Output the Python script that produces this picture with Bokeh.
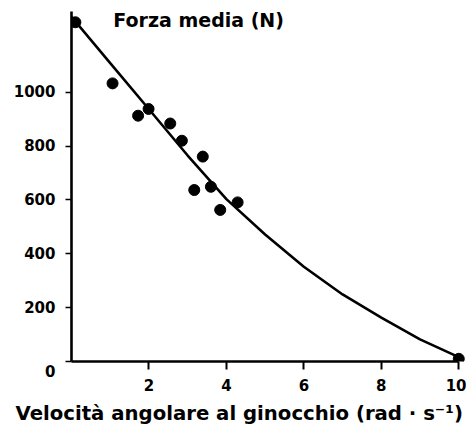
from bokeh.plotting import figure
from bokeh.models import Range1d, FixedTicker, Label, Title
from bokeh.embed import file_html
from bokeh.resources import INLINE

# measured points: angular velocity (rad/s) vs mean force (N)
vel = [0.1, 1.06, 1.72, 1.99, 2.55, 2.85, 3.39, 3.17, 3.60, 3.84, 4.29, 10.0]
force = [1260, 1033, 913, 938, 884, 820, 761, 637, 649, 563, 591, 10]

# fitted curve
curve_v = [0, 1, 2, 3, 4, 5, 6, 7, 8, 9, 10]
curve_f = [1280, 1108, 937, 765, 603, 472, 352, 249, 163, 82, 16]

x_ticks = [2, 4, 6, 8, 10]
y_ticks = [0, 200, 400, 600, 800, 1000]
y_tick_labels = {0: "\n0"}
title_text = "Forza media (N)"
x_label = "Velocità angolare al ginocchio (rad · s⁻¹)"

FONT = "DejaVu Sans"

p = figure(frame_width=395, frame_height=350,
           x_range=Range1d(0, 10.2), y_range=Range1d(0, 1300),
           output_backend="svg", toolbar_location=None,
           min_border_left=71, min_border_top=11, min_border_right=0,
           min_border_bottom=0)
p.background_fill_color = "white"
p.border_fill_color = "white"
p.outline_line_color = None
p.xgrid.visible = False
p.ygrid.visible = False

for ax in (p.xaxis[0], p.yaxis[0]):
    ax.axis_line_width = 2.6
    ax.axis_line_color = "black"
    ax.major_tick_line_color = "black"
    ax.major_tick_in = 0
    ax.minor_tick_line_color = None
    ax.major_label_text_font = FONT
    ax.major_label_text_font_style = "bold"
    ax.major_label_text_font_size = "15px"
    ax.major_label_text_color = "black"

p.xaxis.ticker = FixedTicker(ticks=x_ticks)
p.yaxis.ticker = FixedTicker(ticks=y_ticks)
p.yaxis.major_label_overrides = y_tick_labels
p.xaxis.bounds = (0, 10)
p.yaxis.bounds = (0, 1300)
p.xaxis.major_tick_out = 8
p.xaxis.major_tick_line_width = 2
p.xaxis.major_label_standoff = 9
p.yaxis.major_tick_out = 6
p.yaxis.major_tick_line_width = 1.5
p.yaxis.major_label_standoff = 10

p.line(curve_v, curve_f, line_color="black", line_width=2.6)
p.scatter(vel, force, size=11, fill_color="black", line_color="black")

p.add_layout(Label(x=1.08, y=1269, text=title_text,
                   text_align="left", text_baseline="middle",
                   text_font=FONT, text_font_style="bold",
                   text_font_size="19px", text_color="black"))

p.add_layout(Title(text=x_label, align="left", offset=-56, standoff=13,
                   text_font=FONT, text_font_style="bold",
                   text_font_size="19.7px", text_color="black"), "below")

open("out.html", "w").write(file_html(p, INLINE))
